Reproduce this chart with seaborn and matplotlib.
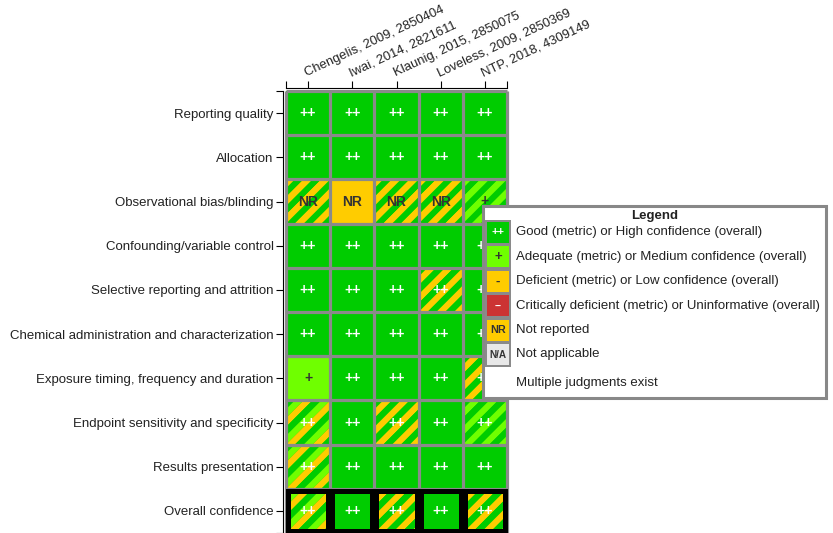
import numpy as np
import pandas as pd
import seaborn as sns
import matplotlib
matplotlib.use("Agg")
import matplotlib.pyplot as plt
from matplotlib.colors import ListedColormap
from matplotlib.patches import Rectangle, Polygon

# ---- data -------------------------------------------------------------
studies = [
    "Chengelis, 2009, 2850404",
    "Iwai, 2014, 2821611",
    "Klaunig, 2015, 2850075",
    "Loveless, 2009, 2850369",
    "NTP, 2018, 4309149",
]
metrics = [
    "Reporting quality",
    "Allocation",
    "Observational bias/blinding",
    "Confounding/variable control",
    "Selective reporting and attrition",
    "Chemical administration and characterization",
    "Exposure timing, frequency and duration",
    "Endpoint sensitivity and specificity",
    "Results presentation",
    "Overall confidence",
]

# judgments per metric (one list per study); the first entry is the default judgment
reporting_quality = [["++"], ["++"], ["++"], ["++"], ["++"]]
allocation = [["++"], ["++"], ["++"], ["++"], ["++"]]
observational_bias = [["NR", "++"], ["NR"], ["NR", "++"], ["NR", "++"], ["+", "++"]]
confounding = [["++"], ["++"], ["++"], ["++"], ["++"]]
selective_reporting = [["++"], ["++"], ["++"], ["++", "NR"], ["++"]]
chemical_admin = [["++"], ["++"], ["++"], ["++"], ["++"]]
exposure_timing = [["+"], ["++"], ["++"], ["++"], ["++", "NR"]]
endpoint_sensitivity = [["++", "+", "NR"], ["++"], ["++", "NR"], ["++"], ["++", "+"]]
results_presentation = [["++", "+", "NR"], ["++"], ["++"], ["++"], ["++"]]
overall_confidence = [["++", "+", "-"], ["++"], ["++", "-"], ["++"], ["++", "-"]]

judgments = [
    reporting_quality, allocation, observational_bias, confounding,
    selective_reporting, chemical_admin, exposure_timing,
    endpoint_sensitivity, results_presentation, overall_confidence,
]

score_labels = ["++", "+", "-", "--", "NR", "N/A"]
score_colors = ["#00CC00", "#6FFF00", "#FFCC00", "#CC3333", "#FFCC00", "#E8E8E8"]
score_text_colors = ["white", "#333333", "#333333", "white", "#333333", "#333333"]
legend_labels = [
    "Good (metric) or High confidence (overall)",
    "Adequate (metric) or Medium confidence (overall)",
    "Deficient (metric) or Low confidence (overall)",
    "Critically deficient (metric) or Uninformative (overall)",
    "Not reported",
    "Not applicable",
]
legend_extra = "Multiple judgments exist"

# ---- styling ------------------------------------------------------------
sns.set_theme(style="white")
plt.rcParams["font.family"] = ["Liberation Sans", "DejaVu Sans"]
GRID = "#8a8a8a"
TEXT = "#222222"

fig = plt.figure(figsize=(8.33, 5.33), dpi=100)
W, H = 833, 533
ax = fig.add_axes([286 / W, 0.0, 221 / W, 442 / H])

codes = [[score_labels.index(cell[0]) for cell in row] for row in judgments]
df = pd.DataFrame(codes, index=metrics, columns=studies)
cmap = ListedColormap(score_colors)
sns.heatmap(df, ax=ax, cmap=cmap, vmin=-0.5, vmax=len(score_colors) - 0.5,
            cbar=False, linewidths=0, square=False)

# diagonal stripes for cells with several judgments
stripe_w = 0.2
for r, row in enumerate(judgments):
    for c, cell in enumerate(row):
        if len(cell) < 2:
            continue
        cols = [score_colors[score_labels.index(s)] for s in cell]
        clip = Rectangle((c, r), 1, 1, transform=ax.transData)
        n = int(np.ceil(2.2 / stripe_w)) + 1
        for k in range(-1, n):
            a = k * stripe_w
            verts = [(c + a, r), (c + a + stripe_w, r),
                     (c + a + stripe_w - 1, r + 1), (c + a - 1, r + 1)]
            p = Polygon(verts, closed=True, fc=cols[k % len(cols)], ec="none",
                        zorder=2)
            ax.add_patch(p)
            p.set_clip_path(clip)

# cell grid
nrow, ncol = len(metrics), len(studies)
ax.hlines(range(nrow + 1), 0, ncol, color=GRID, lw=2.3, zorder=3, clip_on=False)
ax.vlines(range(ncol + 1), 0, nrow, color=GRID, lw=2.3, zorder=3, clip_on=False)

# heavier frame around the overall confidence row
for c in range(ncol):
    ax.add_patch(Rectangle((c + 0.045, nrow - 1 + 0.045), 0.91, 0.91, fill=False,
                           ec="black", lw=3.6, zorder=4, clip_on=False))

# cell labels
for r, row in enumerate(judgments):
    for c, cell in enumerate(row):
        idx = score_labels.index(cell[0])
        ax.text(c + 0.5, r + 0.5, cell[0], ha="center", va="center",
                fontsize=10, fontweight="bold", color=score_text_colors[idx],
                zorder=5)

# spines first: moving a spine rebuilds the tick objects
for side in ["top", "left"]:
    ax.spines[side].set_visible(True)
    ax.spines[side].set_color("black")
    ax.spines[side].set_linewidth(0.8)
    ax.spines[side].set_position(("outward", 2))
for side in ["bottom", "right"]:
    ax.spines[side].set_visible(False)

# axes: study names along the top, metrics on the left
ax.xaxis.tick_top()
ax.set_xlabel("")
ax.set_ylabel("")
ax.set_xticks(np.arange(ncol) + 0.5)
ax.set_xticklabels(studies)
ax.set_yticks(np.arange(nrow) + 0.5)
ax.set_yticklabels(metrics)
ax.set_xticks([0, ncol], minor=True)
ax.set_yticks([0, nrow], minor=True)
ax.tick_params(axis="x", which="both", top=True, bottom=False, length=5,
               width=0.8, color="black", pad=1.5, labelbottom=False, labeltop=True)
ax.tick_params(axis="y", which="both", left=True, length=5, width=0.8,
               color="black", pad=2)
for tick in ax.xaxis.get_major_ticks():
    lab = tick.label2
    lab.set_rotation(25)
    lab.set_rotation_mode("anchor")
    lab.set_ha("left")
    lab.set_va("bottom")
    lab.set_fontsize(9.4)
    lab.set_color(TEXT)
for tick in ax.yaxis.get_major_ticks():
    lab = tick.label1
    lab.set_rotation(0)
    lab.set_fontsize(9.5)
    lab.set_color(TEXT)

# ---- legend -------------------------------------------------------------
lx0, ly0, lw_, lh_ = 482, 205, 345, 194
lax = fig.add_axes([lx0 / W, (H - ly0 - lh_) / H, lw_ / W, lh_ / H])
lax.set_xlim(0, lw_)
lax.set_ylim(lh_, 0)
lax.axis("off")
lax.add_patch(Rectangle((1, 1), lw_ - 2, lh_ - 2, fc="white", ec="#888888",
                        lw=2.2, clip_on=False))
lax.text(lw_ / 2, 11.5, "Legend", ha="center", va="center", fontsize=9.5,
         fontweight="bold", color=TEXT)

pitch = 24.4
sw_top = 17
lax.add_patch(Rectangle((3, sw_top - 2), 26, pitch * len(legend_labels) + 1,
                        fc=GRID, ec="none"))
for i, (lab, col, tcol, txt) in enumerate(zip(score_labels, score_colors,
                                              score_text_colors, legend_labels)):
    y0 = sw_top + i * pitch
    lax.add_patch(Rectangle((5, y0), 22, 21, fc=col, ec="none"))
    size = {1: 9.5, 2: 7.8, 3: 7.2}[len(lab)]
    lax.text(16, y0 + 10.5, lab, ha="center", va="center", fontsize=size,
             fontweight="bold", color=tcol)
    lax.text(34, y0 + 10.5, txt, ha="left", va="center", fontsize=9.5,
             color=TEXT)
lax.text(34, 177.7, legend_extra, ha="left", va="center", fontsize=9.5,
         color=TEXT)

fig.savefig("out.png", dpi=100, facecolor="white")
